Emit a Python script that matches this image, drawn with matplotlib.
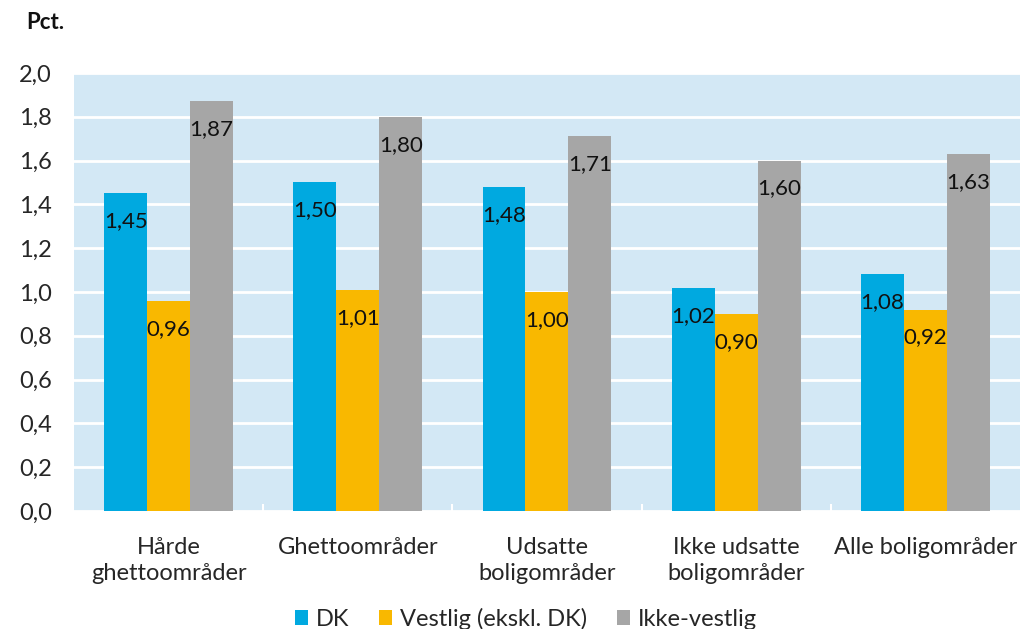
import matplotlib.pyplot as plt
import numpy as np

plt.rcParams['font.family'] = ['Lato', 'DejaVu Sans']

categories = ["Hårde\nghettoområder", "Ghettoområder", "Udsatte\nboligområder",
              "Ikke udsatte\nboligområder", "Alle boligområder"]
series_names = ["DK", "Vestlig (ekskl. DK)", "Ikke-vestlig"]
dk = [1.45, 1.50, 1.48, 1.02, 1.08]
vestlig = [0.96, 1.01, 1.00, 0.90, 0.92]
ikke_vestlig = [1.87, 1.80, 1.71, 1.60, 1.63]
colors = ["#00A9E0", "#F9B800", "#A6A6A6"]
text_col = "#262626"

fig = plt.figure(figsize=(10.24, 6.29), dpi=100)
ax = fig.add_axes([0.0723, 0.1876, 0.9237, 0.6964])
ax.set_facecolor("#D3E8F5")

x = np.arange(len(categories))
width = 0.227
for i, (vals, name, col) in enumerate(zip([dk, vestlig, ikke_vestlig], series_names, colors)):
    pos = x + (i - 1) * width
    ax.bar(pos, vals, width, color=col, label=name, zorder=3)
    for p, v in zip(pos, vals):
        ax.annotate(f"{v:.2f}".replace(".", ","), (p, v), xytext=(0, -28),
                    textcoords="offset pixels", ha="center", va="center",
                    fontsize=16, color="#111111", zorder=4)

ax.set_xlim(-0.5, len(categories) - 0.5)
ax.set_ylim(0, 2.0)
yt = np.arange(0, 2.01, 0.2)
ax.set_yticks(yt)
ax.set_yticklabels([f"{t:.1f}".replace(".", ",") for t in yt])
ax.grid(axis="y", color="white", linewidth=2, zorder=1)
ax.set_xticks(x)
ax.set_xticklabels(categories, linespacing=1.3)
ax.set_xticks(np.arange(0.5, len(categories) - 0.5, 1), minor=True)
ax.tick_params(axis="x", which="major", length=0, pad=19, labelsize=17, labelcolor=text_col)
ax.tick_params(axis="x", which="minor", direction="in", length=5, color="white", width=1.5)
ax.tick_params(axis="y", length=0, pad=16, labelsize=17, labelcolor=text_col)
for s in ax.spines.values():
    s.set_visible(False)

fig.text(0.026, 0.965, "Pct.", fontsize=16, fontweight="bold", va="center", ha="left",
         color="#111111")

leg = ax.legend(loc="center", bbox_to_anchor=(0.478, -0.246), ncol=3, frameon=False,
                fontsize=17, handlelength=0.55, handleheight=0.55, handletextpad=0.35,
                columnspacing=1.25, borderpad=0)
for t in leg.get_texts():
    t.set_color(text_col)

fig.savefig("out.png", dpi=100)
